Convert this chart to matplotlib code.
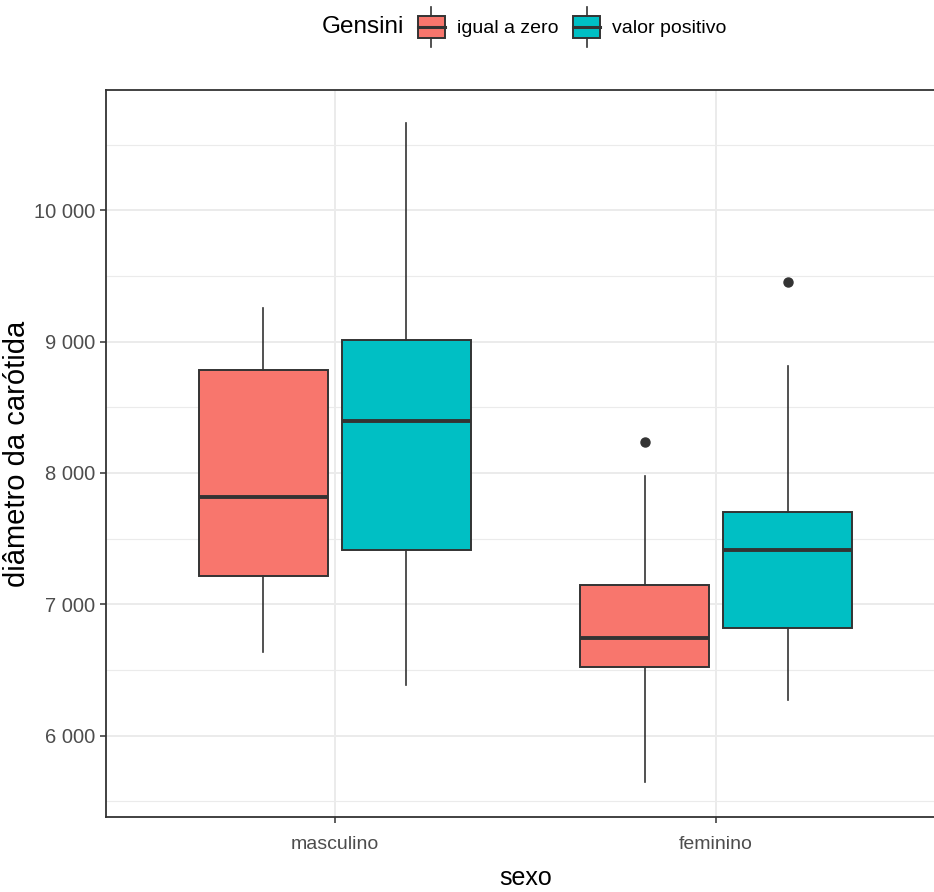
import numpy as np
import matplotlib
matplotlib.use("Agg")
from matplotlib import pyplot as plt
from matplotlib.patches import Rectangle, Patch
from matplotlib.lines import Line2D
from matplotlib.legend_handler import HandlerBase
from matplotlib.ticker import FuncFormatter, MultipleLocator

# valores
sexos = ["masculino", "feminino"]
grupos = ["igual a zero", "valor positivo"]
cores = ["#F8766D", "#00BFC4"]

# [sexo][grupo]
whislo = [[6640, 6388], [5645, 6268]]
q1 = [[7212, 7416], [6521, 6816]]
med = [[7813, 8394], [6745, 7416]]
q3 = [[8781, 9013], [7147, 7704]]
whishi = [[9252, 10665], [7978, 8813]]
outliers = [[[], []], [[8236], [9453]]]

fonte = ["Liberation Sans", "DejaVu Sans"]
cinza20 = "#333333"

fig = plt.figure(figsize=(9.34, 8.92), dpi=100)
ax = fig.add_axes([106 / 934, 1 - 817 / 892, (945 - 106) / 934, (817 - 90) / 892])

stats = []
pos = []
fc = []
for i in range(len(sexos)):
    for j in range(len(grupos)):
        stats.append(dict(med=med[i][j], q1=q1[i][j], q3=q3[i][j],
                          whislo=whislo[i][j], whishi=whishi[i][j],
                          fliers=outliers[i][j]))
        pos.append(i + 1 + (j - 0.5) * 0.375)
        fc.append(cores[j])

bp = ax.bxp(stats, positions=pos, widths=0.3375, patch_artist=True,
            showcaps=False,
            boxprops=dict(edgecolor=cinza20, linewidth=1.4),
            whiskerprops=dict(color=cinza20, linewidth=1.2),
            medianprops=dict(color=cinza20, linewidth=2.8),
            flierprops=dict(marker="o", markerfacecolor=cinza20,
                            markeredgecolor=cinza20, markersize=6.5))
for b, c in zip(bp["boxes"], fc):
    b.set_facecolor(c)

ax.set_xlim(0.4, 2.6)
ax.set_ylim(5380, 10915)
ax.set_xticks([1, 2])
ax.set_xticklabels(sexos, family=fonte, fontsize=14, color="#4D4D4D")
ax.yaxis.set_major_locator(MultipleLocator(1000))
ax.yaxis.set_minor_locator(MultipleLocator(500))
ax.yaxis.set_major_formatter(FuncFormatter(lambda v, p: "{:,}".format(int(v)).replace(",", " ")))
for t in ax.get_yticklabels():
    t.set_family(fonte)
    t.set_fontsize(14.5)
    t.set_color("#4D4D4D")
ax.tick_params(axis="both", which="major", length=4.5, width=1.1, color=cinza20)
ax.tick_params(axis="x", which="major", pad=9)
ax.tick_params(axis="y", which="major", pad=3.5)
ax.tick_params(axis="y", which="minor", length=0)

ax.grid(True, which="major", color="#EBEBEB", linewidth=1.4)
ax.grid(True, which="minor", axis="y", color="#EBEBEB", linewidth=0.8)
ax.set_axisbelow(True)
for s in ax.spines.values():
    s.set_color(cinza20)
    s.set_linewidth(1.3)

ax.set_xlabel("sexo", family=fonte, fontsize=18, color="black", va="center")
ax.xaxis.set_label_coords(419.5 / 839, (817 - 878) / 727)
ax.set_ylabel("diâmetro da carótida", family=fonte, fontsize=21, color="black",
              va="center", ha="center")
ax.yaxis.set_label_coords((17 - 106) / 839, 0.5)


class BoxKey(HandlerBase):
    def create_artists(self, legend, orig_handle, xdescent, ydescent,
                       width, height, fontsize, trans):
        x0 = -xdescent
        y0 = -ydescent
        r = Rectangle((x0 + 0.125 * width, y0 + 0.25 * height), 0.75 * width, 0.5 * height,
                      facecolor=orig_handle.get_facecolor(), edgecolor=cinza20,
                      linewidth=1.4, transform=trans)
        m = Line2D([x0 + 0.125 * width, x0 + 0.875 * width], [y0 + 0.5 * height] * 2,
                   color=cinza20, linewidth=2.2, transform=trans)
        w1 = Line2D([x0 + 0.5 * width] * 2, [y0 + 0.05 * height, y0 + 0.25 * height],
                    color=cinza20, linewidth=1.2, transform=trans)
        w2 = Line2D([x0 + 0.5 * width] * 2, [y0 + 0.75 * height, y0 + 0.95 * height],
                    color=cinza20, linewidth=1.2, transform=trans)
        return [r, m, w1, w2]


handles = [Patch(facecolor=c) for c in cores]
fig.text(322 / 934, 1 - 27 / 892, "Gensini", family=fonte, fontsize=17.5,
         ha="left", va="center")
fig.legend(handles, grupos, handler_map={Patch: BoxKey()},
           loc="center left", bbox_to_anchor=(413 / 934, 1 - 27 / 892),
           ncol=2, frameon=False, borderpad=0, borderaxespad=0,
           handlelength=1.86, handleheight=3.2, handletextpad=0.39,
           columnspacing=0.54, prop=dict(family=fonte, size=14))

fig.savefig("out.png", dpi=100)
